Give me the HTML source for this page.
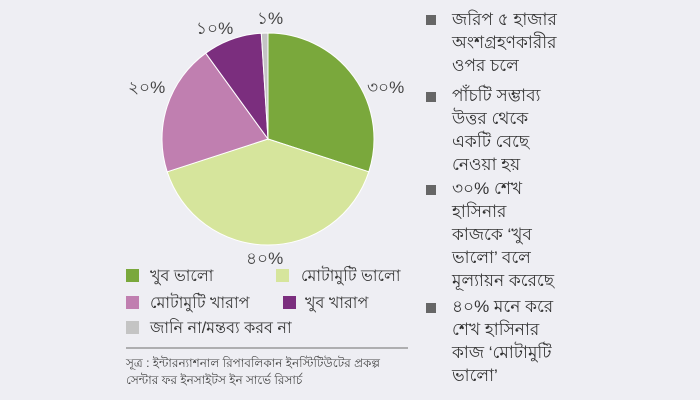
<!DOCTYPE html>
<html><head><meta charset="utf-8"><style>
html,body{margin:0;padding:0}
body{width:700px;height:400px;background:#eeeef3;overflow:hidden;font-family:"Liberation Sans",sans-serif;color:#333}
</style></head><body>
<svg width="700" height="400" xmlns="http://www.w3.org/2000/svg" style="position:absolute;left:0;top:0">
<g stroke="#fff" stroke-width="1">
<path d="M268,139 L268,33 A106,106 0 0,1 368.8,171.8 Z" fill="#7aa83c"/>
<path d="M268,139 L368.8,171.8 A106,106 0 0,1 167.2,171.8 Z" fill="#d6e59c"/>
<path d="M268,139 L167.2,171.8 A106,106 0 0,1 205.7,53.2 Z" fill="#c07fb0"/>
<path d="M268,139 L205.7,53.2 A106,106 0 0,1 261.3,33.2 Z" fill="#7b2e7e"/>
<path d="M268,139 L261.3,33.2 A106,106 0 0,1 268,33 Z" fill="#c4c4c4"/>
</g>
<g font-size="17" fill="#444" font-family="Liberation Sans, sans-serif">
<text x="367" y="93">৩০%</text>
<text x="246" y="264">৪০%</text>
<text x="128" y="93">২০%</text>
<text x="196" y="34">১০%</text>
<text x="257" y="24">১%</text>
</g>
<g font-size="16" fill="#333">
<rect x="126" y="269" width="13" height="13" fill="#7aa83c"/><text x="150" y="281">খুব ভালো</text>
<rect x="276" y="269" width="13" height="13" fill="#d6e59c"/><text x="301" y="281">মোটামুটি ভালো</text>
<rect x="126" y="296" width="13" height="13" fill="#c07fb0"/><text x="150" y="308">মোটামুটি খারাপ</text>
<rect x="283" y="296" width="13" height="13" fill="#7b2e7e"/><text x="305" y="308">খুব খারাপ</text>
<rect x="126" y="321" width="13" height="13" fill="#c4c4c4"/><text x="150" y="333">জানি না/মন্তব্য করব না</text>
</g>
<line x1="126" y1="348" x2="408" y2="348" stroke="#888" stroke-width="1.2"/>
<g font-size="12" fill="#444">
<text x="126" y="367">সূত্র : ইন্টারন্যাশনাল রিপাবলিকান ইনস্টিটিউটের প্রকল্প</text>
<text x="126" y="384">সেন্টার ফর ইনসাইটস ইন সার্ভে রিসার্চ</text>
</g>
<g font-size="17" fill="#333">
<rect x="426" y="15" width="10" height="10" fill="#666"/>
<text x="452" y="25">জরিপ ৫ হাজার</text><text x="452" y="48">অংশগ্রহণকারীর</text><text x="452" y="71">ওপর চলে</text>
<rect x="426" y="92" width="10" height="10" fill="#666"/>
<text x="452" y="101">পাঁচটি সম্ভাব্য</text><text x="452" y="124">উত্তর থেকে</text><text x="452" y="147">একটি বেছে</text><text x="452" y="170">নেওয়া হয়</text>
<rect x="426" y="185" width="10" height="10" fill="#666"/>
<text x="452" y="194">৩০% শেখ</text><text x="452" y="217">হাসিনার</text><text x="452" y="240">কাজকে ‘খুব</text><text x="452" y="263">ভালো’ বলে</text><text x="452" y="286">মূল্যায়ন করেছে</text>
<rect x="426" y="303" width="10" height="10" fill="#666"/>
<text x="452" y="312">৪০% মনে করে</text><text x="452" y="335">শেখ হাসিনার</text><text x="452" y="358">কাজ ‘মোটামুটি</text><text x="452" y="381">ভালো’</text>
</g>
</svg>
</body></html>
